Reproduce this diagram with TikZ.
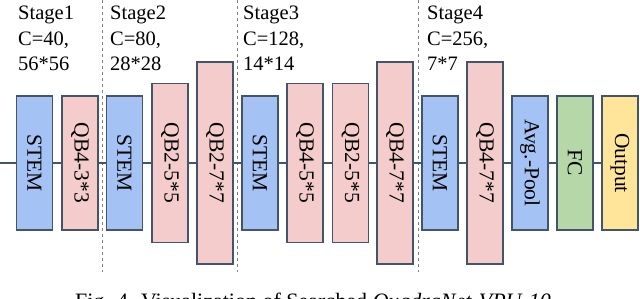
\documentclass[tikz,border=0pt]{standalone}
\usepackage{fontspec}
\setmainfont{Liberation Serif}
\definecolor{bordc}{HTML}{44546A}
\definecolor{stemc}{HTML}{A4C2F4}
\definecolor{qbc}{HTML}{F4CCCC}
\definecolor{fcc}{HTML}{B6D7A8}
\definecolor{outc}{HTML}{FFE599}
\definecolor{dashc}{HTML}{808080}
\begin{document}
\begin{tikzpicture}[x=1pt,y=-1pt,
  blk/.style={draw=bordc, line width=1.4pt, rotate=-90, minimum height=36pt, inner sep=0pt,
    font=\fontsize{21.5}{24}\selectfont},
  sm/.style={minimum width=134pt},
  md/.style={minimum width=159pt},
  lg/.style={minimum width=202pt},
  stemb/.style={blk, sm, fill=stemc},
  qbb/.style={blk, fill=qbc},
  conn/.style={draw=bordc, line width=1.4pt},
  sep/.style={draw=dashc, line width=0.9pt, dash pattern=on 3.5pt off 2.5pt},
  stagel/.style={anchor=north west, align=left, inner sep=0pt,
    font=\fontsize{20.5}{25.5}\selectfont}]
\useasboundingbox (0,0) rectangle (640,299);
% separators
\coordinate (d1t) at (102,0);   \coordinate (d1b) at (102,272);
\coordinate (d2t) at (237,0);   \coordinate (d2b) at (237,272);
\coordinate (d3t) at (418,0);   \coordinate (d3b) at (418,272);
\draw[sep] (d1t) -- (d1b);
\draw[sep] (d2t) -- (d2b);
\draw[sep] (d3t) -- (d3b);
% stage labels
\node[stagel] (st1) at (18,6) {Stage1\\C=40,\\56*56};
\node[stagel] (st2) at (110,6) {Stage2\\C=80,\\28*28};
\node[stagel] (st3) at (243,6) {Stage3\\C=128,\\14*14};
\node[stagel] (st4) at (427,6) {Stage4\\C=256,\\7*7};
% blocks
\node[stemb] (b1) at (34.5,163) {STEM};
\node[qbb, sm] (b2) at (80,163) {QB4-3*3};
\node[stemb] (b3) at (124.5,163) {STEM};
\node[qbb, md] (b4) at (170,163) {QB2-5*5};
\node[qbb, lg] (b5) at (215,163) {QB2-7*7};
\node[stemb] (b6) at (260,163) {STEM};
\node[qbb, md] (b7) at (305,163) {QB4-5*5};
\node[qbb, md] (b8) at (350.5,163) {QB2-5*5};
\node[qbb, lg] (b9) at (395,163) {QB4-7*7};
\node[stemb] (b10) at (440,163) {STEM};
\node[qbb, lg] (b11) at (485,163) {QB4-7*7};
\node[stemb] (b12) at (530,163) {Avg.-Pool};
\node[blk, sm, fill=fcc] (b13) at (575,163) {FC};
\node[blk, sm, fill=outc] (b14) at (620,163) {Output};
% connectors
\coordinate (in) at (0,163);
\draw[conn] (in) -- (b1);
\foreach \a/\b in {b1/b2,b2/b3,b3/b4,b4/b5,b5/b6,b6/b7,b7/b8,b8/b9,b9/b10,b10/b11,b11/b12,b12/b13,b13/b14}
  \draw[conn] (\a) -- (\b);
% caption (cut off by the page edge)
\node[anchor=base, inner sep=0pt, font=\fontsize{22}{24}\selectfont] (cap) at (313,308.5)
  {Fig. 4. Visualization of Searched \textit{QuadraNet-VPU-10}};
\end{tikzpicture}
\end{document}
